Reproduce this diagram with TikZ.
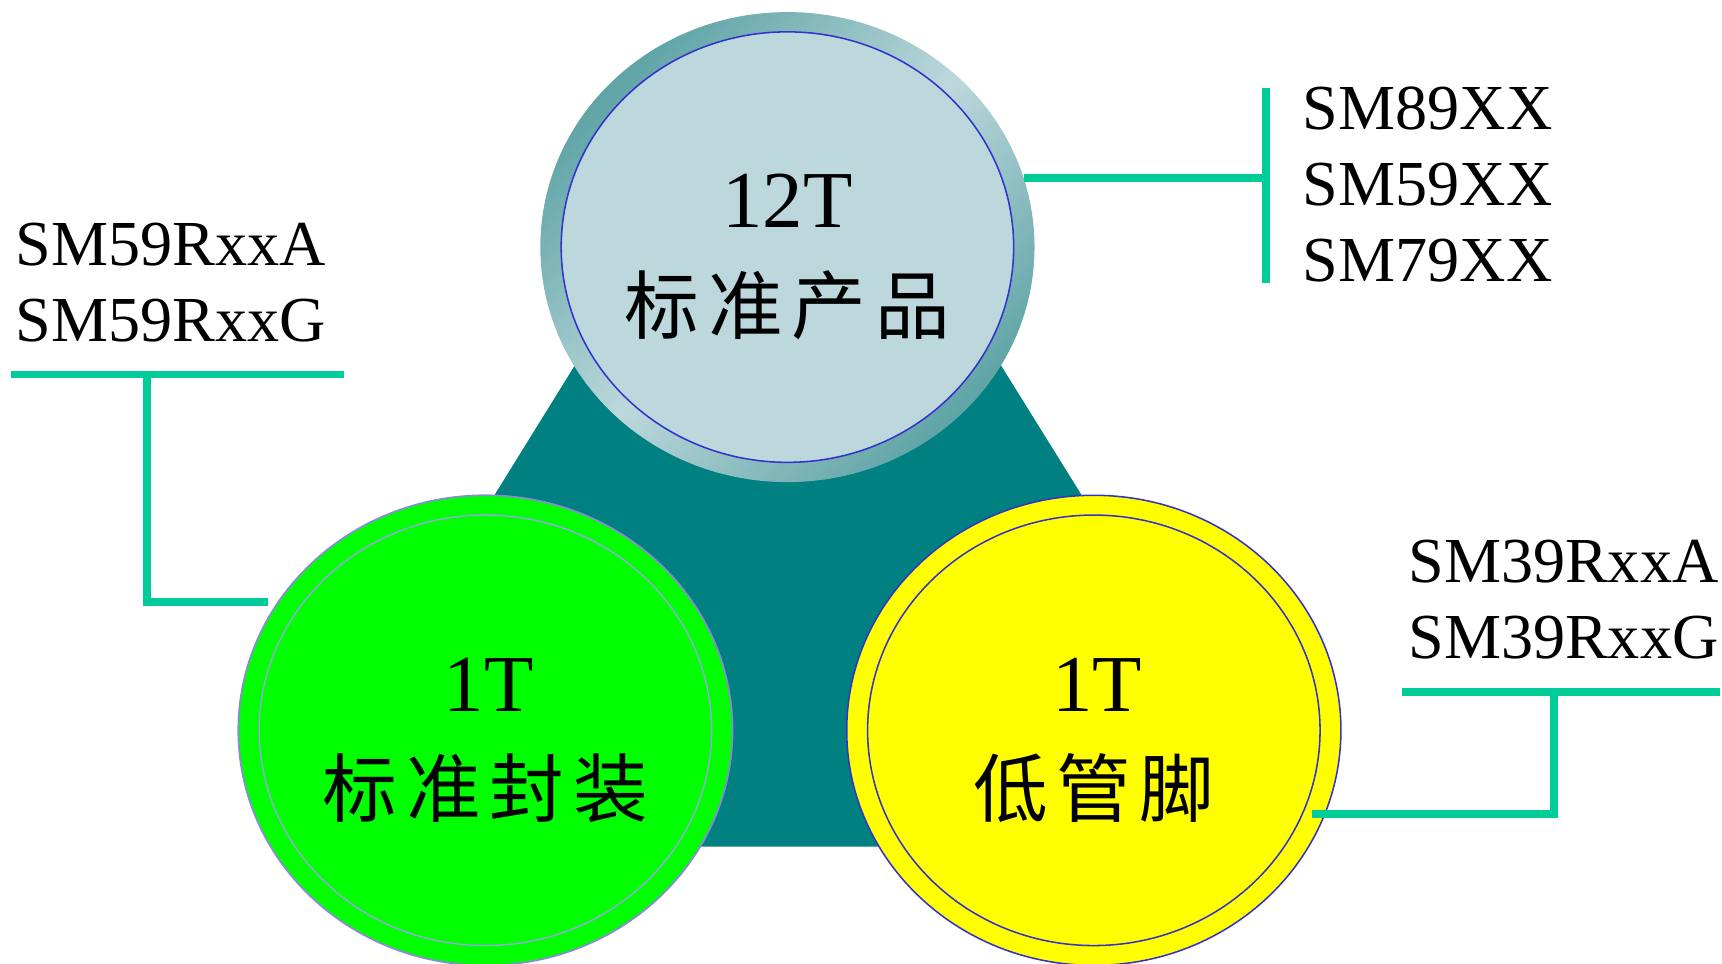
\documentclass[tikz,border=0pt]{standalone}
\usepackage{fontspec}
\setmainfont{Liberation Serif}
\newfontfamily\cjk{Noto Sans CJK SC}
\usetikzlibrary{shapes.geometric}
\definecolor{tealbase}{HTML}{008080}
\definecolor{ringdark}{HTML}{5FA4A6}
\definecolor{ringlight}{HTML}{BDD8DC}
\definecolor{topfill}{HTML}{BDD8DC}
\definecolor{blueline}{HTML}{3333CC}
\definecolor{lavline}{HTML}{8A8ADA}
\definecolor{lavinner}{HTML}{A0A0F0}
\definecolor{greenfill}{HTML}{00FF00}
\definecolor{yellowfill}{HTML}{FFFF00}
\definecolor{conn}{HTML}{00CC99}
\tikzset{
  outerell/.style={ellipse, inner sep=0pt, minimum width=225pt, minimum height=214pt},
  innerell/.style={ellipse, inner sep=0pt, minimum width=206pt, minimum height=196pt},
  bigtxt/.style={font=\fontsize{36.8}{40}\selectfont, anchor=base, inner sep=0pt},
  cjktxt/.style={font=\cjk\fontsize{34}{40}\selectfont, inner sep=0pt},
  lbl/.style={font=\fontsize{29.2}{32}\selectfont, anchor=base west, inner sep=0pt},
  connector/.style={conn, line width=3.6pt}
}
\begin{document}
\begin{tikzpicture}[x=0.5pt,y=-0.5pt]
\useasboundingbox (0,0) rectangle (1568,877);
\clip (0,0) rectangle (1568,877);
\fill[tealbase] (717,20) -- (252,771) -- (1184,771) -- cycle;

% top circle
\node[outerell, top color=ringdark, bottom color=ringdark, middle color=ringlight, shading angle=45] (topouter) at (717,225) {};
\node[innerell, fill=topfill, draw=blueline, line width=0.7pt] (topinner) at (717,225) {};
\node[bigtxt] (t12) at (717,207) {12T};
\node[cjktxt] (tstd) at (717,278) {标\kern4pt准\kern4pt产\kern4pt品};

% green circle
\node[outerell, fill=greenfill, draw=lavline, line width=0.8pt] (gouter) at (442,665) {};
\node[innerell, draw=lavinner, line width=0.6pt] (ginner) at (442,665) {};
\node[bigtxt] (g1t) at (445,648) {1T};
\node[cjktxt] (gstd) at (442,718) {标\kern4pt准\kern4pt封\kern4pt装};

% yellow circle
\node[outerell, fill=yellowfill, draw=blueline, line width=0.7pt] (youter) at (996,665) {};
\node[innerell, draw=blueline, line width=0.7pt] (yinner) at (996,665) {};
\node[bigtxt] (y1t) at (999,648) {1T};
\node[cjktxt] (ylow) at (996,718) {低\kern4pt管\kern4pt脚};

% labels
\node[lbl] (a1) at (1186,118) {SM89XX};
\node[lbl] (a2) at (1186,187) {SM59XX};
\node[lbl] (a3) at (1186,256) {SM79XX};
\node[lbl] (b1) at (14,242) {SM59RxxA};
\node[lbl] (b2) at (14,311) {SM59RxxG};
\node[lbl] (c1) at (1282,530) {SM39RxxA};
\node[lbl] (c2) at (1282,600) {SM39RxxG};

% connectors
\coordinate (tr1) at (932,162);
\coordinate (tr2) at (1153,162);
\coordinate (tr3) at (1153,80);
\coordinate (tr4) at (1153,258);
\draw[connector] (tr1) -- (tr2);
\draw[connector] (tr3) -- (tr4);

\coordinate (l1) at (10,341);
\coordinate (l2) at (313,341);
\coordinate (l3) at (134,341);
\coordinate (l4) at (134,548);
\coordinate (l5) at (244,548);
\draw[connector] (l1) -- (l2);
\draw[connector] (l3) -- (l4) -- (l5);

\coordinate (r1) at (1277,630);
\coordinate (r2) at (1566,630);
\coordinate (r3) at (1415,630);
\coordinate (r4) at (1415,741);
\coordinate (r5) at (1195,741);
\draw[connector] (r1) -- (r2);
\draw[connector] (r3) -- (r4) -- (r5);
\end{tikzpicture}
\end{document}
